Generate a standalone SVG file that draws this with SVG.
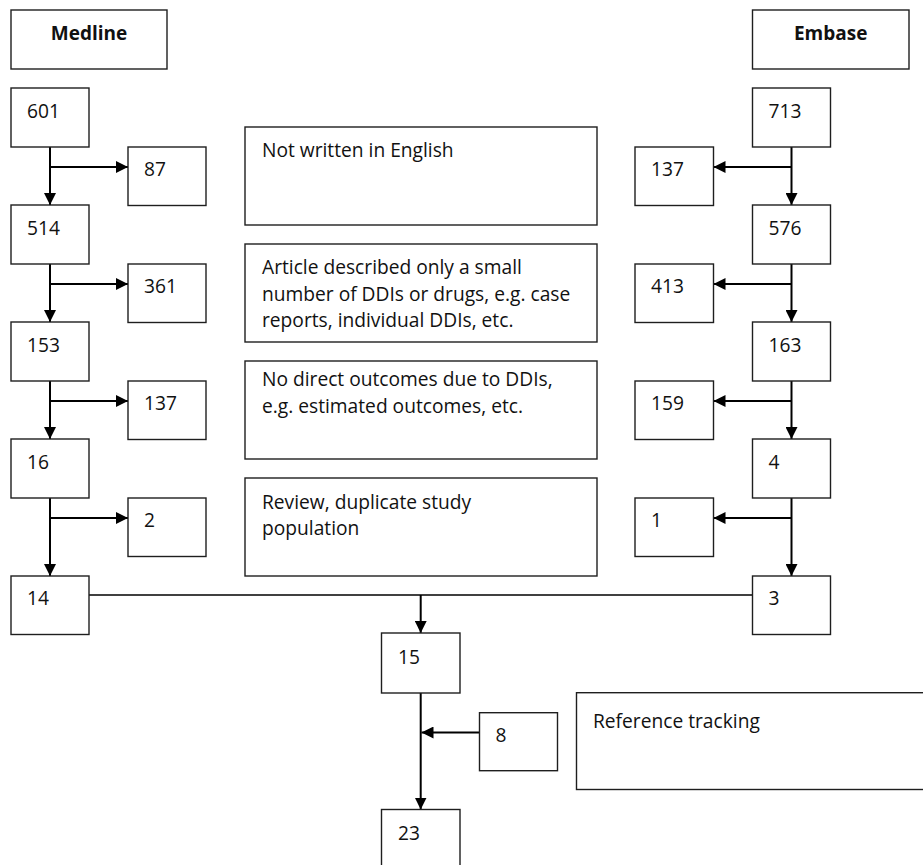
<svg xmlns="http://www.w3.org/2000/svg" width="923" height="865" viewBox="0 0 923 865">
<style>
  .box{fill:#fff;stroke:#1e1e1e;stroke-width:1.4}
  .t{font-family:"Open Sans","Noto Sans","DejaVu Sans",sans-serif;font-size:19.2px;fill:#111}
  .h{font-family:"Open Sans","Noto Sans","DejaVu Sans",sans-serif;font-size:19px;font-weight:bold;fill:#111;text-anchor:middle}
  .ca{stroke:#000;stroke-width:2;fill:none;marker-end:url(#ah)}
  .thin{stroke:#000;stroke-width:1.4;fill:none}
</style>
<defs>
  <marker id="ah" viewBox="0 0 12 12" refX="12" refY="6" markerWidth="12" markerHeight="12" markerUnits="userSpaceOnUse" orient="auto">
    <path d="M0,0 L12,6 L0,12 z" fill="#000"/>
  </marker>
</defs>
<rect width="923" height="865" fill="#fff"/>

<g id="connectors">
  <line class="ca" x1="50" y1="147" x2="50" y2="205"/>
  <line class="ca" x1="50" y1="167" x2="128" y2="167"/>
  <line class="ca" x1="50" y1="264" x2="50" y2="322"/>
  <line class="ca" x1="50" y1="284" x2="128" y2="284"/>
  <line class="ca" x1="50" y1="381" x2="50" y2="439"/>
  <line class="ca" x1="50" y1="401" x2="128" y2="401"/>
  <line class="ca" x1="50" y1="498" x2="50" y2="576"/>
  <line class="ca" x1="50" y1="518" x2="128" y2="518"/>
  <line class="ca" x1="791.5" y1="147" x2="791.5" y2="205"/>
  <line class="ca" x1="791.5" y1="167" x2="713.5" y2="167"/>
  <line class="ca" x1="791.5" y1="264" x2="791.5" y2="322"/>
  <line class="ca" x1="791.5" y1="284" x2="713.5" y2="284"/>
  <line class="ca" x1="791.5" y1="381" x2="791.5" y2="439"/>
  <line class="ca" x1="791.5" y1="401" x2="713.5" y2="401"/>
  <line class="ca" x1="791.5" y1="498" x2="791.5" y2="576"/>
  <line class="ca" x1="791.5" y1="518" x2="713.5" y2="518"/>
  <line class="thin" x1="89" y1="595" x2="752.5" y2="595"/>
  <line class="ca" x1="420.7" y1="595" x2="420.7" y2="633"/>
  <line class="ca" x1="420.7" y1="693" x2="420.7" y2="809.5"/>
  <line class="ca" x1="479.5" y1="732.5" x2="421.5" y2="732.5"/>
</g>

<g id="medline"><rect class="box" x="11" y="10" width="156" height="59"/><text class="h" x="89" y="40">Medline</text></g>
<g id="embase"><rect class="box" x="752.5" y="10" width="156.5" height="59"/><text class="h" x="830.7" y="40">Embase</text></g>

<g id="m601"><rect class="box" x="11" y="88" width="78" height="59"/><text class="t" x="27" y="118">601</text></g>
<g id="m87"><rect class="box" x="128" y="147" width="78" height="58.5"/><text class="t" x="144" y="176">87</text></g>
<g id="m514"><rect class="box" x="11" y="205" width="78" height="59"/><text class="t" x="27" y="235">514</text></g>
<g id="m361"><rect class="box" x="128" y="264" width="78" height="58.5"/><text class="t" x="144" y="293">361</text></g>
<g id="m153"><rect class="box" x="11" y="322" width="78" height="59"/><text class="t" x="27" y="352">153</text></g>
<g id="m137"><rect class="box" x="128" y="381" width="78" height="58.5"/><text class="t" x="144" y="410">137</text></g>
<g id="m16"><rect class="box" x="11" y="439" width="78" height="59"/><text class="t" x="27" y="469">16</text></g>
<g id="m2"><rect class="box" x="128" y="498" width="78" height="58.5"/><text class="t" x="144" y="527">2</text></g>
<g id="m14"><rect class="box" x="11" y="576" width="78" height="58.5"/><text class="t" x="27" y="605">14</text></g>

<g id="e713"><rect class="box" x="752.5" y="88" width="78" height="59"/><text class="t" x="768.5" y="118">713</text></g>
<g id="e137"><rect class="box" x="635" y="147" width="78.5" height="58.5"/><text class="t" x="651" y="176">137</text></g>
<g id="e576"><rect class="box" x="752.5" y="205" width="78" height="59"/><text class="t" x="768.5" y="235">576</text></g>
<g id="e413"><rect class="box" x="635" y="264" width="78.5" height="58.5"/><text class="t" x="651" y="293">413</text></g>
<g id="e163"><rect class="box" x="752.5" y="322" width="78" height="59"/><text class="t" x="768.5" y="352">163</text></g>
<g id="e159"><rect class="box" x="635" y="381" width="78.5" height="58.5"/><text class="t" x="651" y="410">159</text></g>
<g id="e4"><rect class="box" x="752.5" y="439" width="78" height="59"/><text class="t" x="768.5" y="469">4</text></g>
<g id="e1"><rect class="box" x="635" y="498" width="78.5" height="58.5"/><text class="t" x="651" y="527">1</text></g>
<g id="e3"><rect class="box" x="752.5" y="576" width="78" height="58.5"/><text class="t" x="768.5" y="605">3</text></g>

<g id="r1"><rect class="box" x="245" y="127" width="352" height="98"/><text class="t" x="262" y="157">Not written in English</text></g>
<g id="r2"><rect class="box" x="245" y="244" width="352" height="98"/><text class="t" x="262" y="274">Article described only a small</text><text class="t" x="262" y="300.5">number of DDIs or drugs, e.g. case</text><text class="t" x="262" y="327">reports, individual DDIs, etc.</text></g>
<g id="r3"><rect class="box" x="245" y="361" width="352" height="98"/><text class="t" x="262" y="386">No direct outcomes due to DDIs,</text><text class="t" x="262" y="412.5">e.g. estimated outcomes, etc.</text></g>
<g id="r4"><rect class="box" x="245" y="478" width="352" height="98"/><text class="t" x="262" y="508.5">Review, duplicate study</text><text class="t" x="262" y="534.5">population</text></g>

<g id="n15"><rect class="box" x="381.5" y="633" width="78.5" height="60"/><text class="t" x="398" y="664">15</text></g>
<g id="n8"><rect class="box" x="479.5" y="712.7" width="78" height="58"/><text class="t" x="495.5" y="742">8</text></g>
<g id="n23"><rect class="box" x="381.5" y="809.5" width="78.5" height="60"/><text class="t" x="398" y="839.5">23</text></g>
<g id="ref"><rect class="box" x="576.5" y="692.7" width="360" height="96.8"/><text class="t" x="593" y="727.5">Reference tracking</text></g>
</svg>
